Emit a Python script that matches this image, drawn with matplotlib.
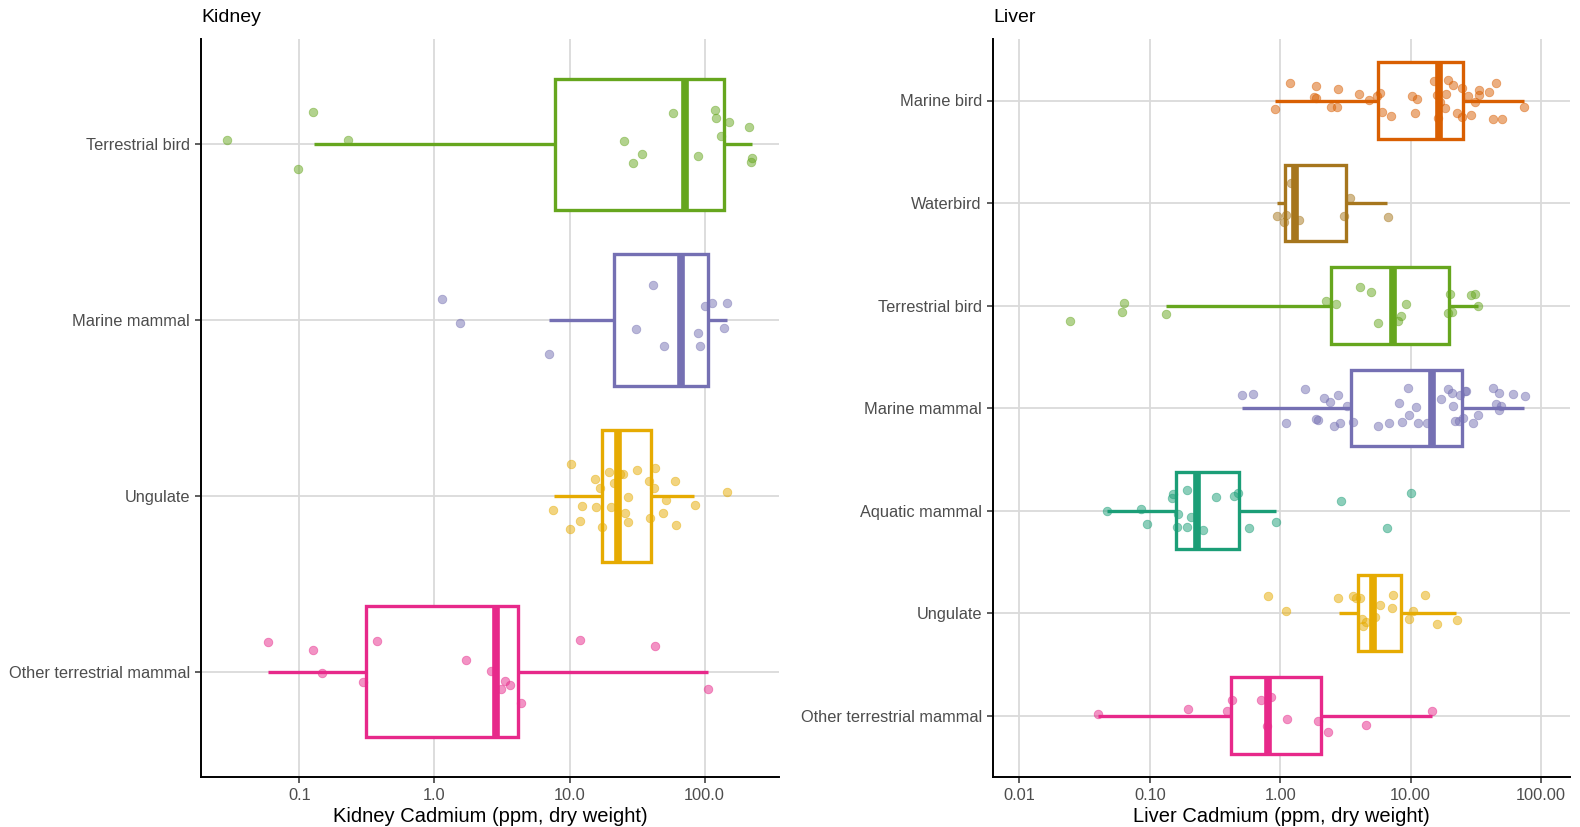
import matplotlib
matplotlib.use("Agg")
import matplotlib.pyplot as plt
import numpy as np

plt.rcParams['font.family'] = ['Liberation Sans', 'DejaVu Sans']

# ---------------------------------------------------------------- colours
group_colors = {
    "Marine bird": "#D95F02",
    "Waterbird": "#A6761D",
    "Terrestrial bird": "#66A61E",
    "Marine mammal": "#7570B3",
    "Aquatic mammal": "#1B9E77",
    "Ungulate": "#E6AB02",
    "Other terrestrial mammal": "#E7298A",
}

# ---------------------------------------------------------------- kidney data
kidney_groups = ["Terrestrial bird", "Marine mammal", "Ungulate", "Other terrestrial mammal"]

kidney_terrestrial_bird = [0.029, 0.126, 0.097, 0.228, 25.4, 29.3, 34.3, 58.6, 89, 119, 122, 152, 132, 213, 224, 219]
kidney_marine_mammal = [1.13, 1.54, 7.08, 30.9, 41.2, 49.8, 89.5, 91.9, 101, 114, 147, 139]
kidney_ungulate = [10.3, 7.6, 10.0, 11.9, 12.3, 15.4, 15.8, 16.7, 17.4, 19.7, 20.2, 21.3, 23.5, 24.9,
                   25.8, 27.0, 27.1, 31.3, 38.8, 39.6, 42.0, 42.8, 49.1, 51.4, 60.1, 61.7, 85.5, 147]
kidney_other_terrestrial = [0.059, 0.126, 0.147, 0.295, 0.376, 1.72, 2.64, 3.11, 3.34, 3.64, 4.34, 11.9, 42.8, 106]

kidney_values = [kidney_terrestrial_bird, kidney_marine_mammal, kidney_ungulate, kidney_other_terrestrial]

# vertical jitter of each point (in category units)
kidney_jitter = [
    [-0.025, -0.184, 0.137, -0.023, -0.017, 0.104, 0.055, -0.178, 0.068, -0.196, -0.148, -0.129, -0.049, -0.097, 0.076, 0.099],
    [-0.122, 0.015, 0.194, 0.051, -0.201, 0.148, 0.072, 0.146, -0.078, -0.095, -0.099, 0.044],
    [-0.184, 0.081, 0.189, 0.144, 0.058, -0.094, 0.064, -0.043, 0.178, -0.137, 0.066, -0.073, -0.122, -0.126,
     0.099, 0.146, 0.006, -0.148, -0.084, 0.124, -0.043, -0.159, 0.098, 0.021, -0.083, 0.165, 0.051, -0.023],
    [-0.168, -0.121, 0.008, 0.057, -0.174, -0.068, -0.004, 0.102, 0.053, 0.077, 0.181, -0.178, -0.147, 0.100],
]

# box summaries: lower whisker, Q1, median, Q3, upper whisker
kidney_whislo = [0.128, 7.08, 7.7, 0.059]
kidney_q1 = [7.8, 21.3, 17.3, 0.313]
kidney_median = [72, 67, 22.9, 2.86]
kidney_q3 = [139, 106, 40.4, 4.17]
kidney_whishi = [224, 147, 84, 106]

# ---------------------------------------------------------------- liver data
liver_groups = ["Marine bird", "Waterbird", "Terrestrial bird", "Marine mammal",
                "Aquatic mammal", "Ungulate", "Other terrestrial mammal"]

liver_marine_bird = [0.91, 1.18, 1.88, 1.82, 1.88, 2.77, 2.47, 2.73, 4.01, 4.83, 5.52, 5.86, 5.98, 7.05,
                     10.3, 11.1, 10.8, 15.1, 16.0, 16.9, 16.1, 18.4, 18.6, 19.5, 21.1, 22.7, 24.9, 24.9,
                     27.4, 29.1, 31.0, 33.6, 33.4, 39.7, 45.4, 43.0, 49.8, 73.6]
liver_waterbird = [0.94, 1.11, 1.07, 1.22, 1.39, 3.11, 3.41, 6.69]
liver_terrestrial_bird = [0.0244, 0.061, 0.064, 0.132, 2.25, 2.67, 4.12, 4.93, 5.59, 7.95, 8.49, 9.2,
                          20.0, 19.2, 20.7, 29.2, 31.0, 33.0]
liver_marine_mammal = [0.509, 0.618, 1.11, 1.55, 1.88, 1.96, 2.18, 2.41, 2.76, 2.59, 2.88, 3.24, 3.64,
                       5.59, 6.82, 8.18, 8.63, 9.55, 9.71, 10.9, 11.3, 13.4, 17.0, 19.4, 20.8, 21.2,
                       21.8, 23.4, 23.7, 25.0, 25.9, 26.8, 30.2, 33.0, 42.9, 47.7, 45.3, 49.7, 48.0,
                       61.0, 75.0]
liver_aquatic_mammal = [0.0473, 0.085, 0.095, 0.147, 0.150, 0.161, 0.165, 0.194, 0.194, 0.207, 0.254,
                        0.323, 0.441, 0.478, 0.576, 0.935, 2.90, 6.60, 10.0]
liver_ungulate = [0.81, 1.10, 2.79, 3.62, 3.84, 4.12, 4.25, 4.53, 4.32, 5.32, 5.81, 7.18, 7.36, 9.7,
                  10.4, 12.9, 16.0, 22.6]
liver_other_terrestrial = [0.0398, 0.195, 0.392, 0.427, 0.718, 0.847, 0.787, 1.12, 1.94, 2.33, 4.58, 14.5]

liver_values = [liver_marine_bird, liver_waterbird, liver_terrestrial_bird, liver_marine_mammal,
                liver_aquatic_mammal, liver_ungulate, liver_other_terrestrial]

liver_jitter = [
    [0.081, -0.168, -0.142, -0.036, -0.029, -0.110, 0.068, 0.061, -0.061, -0.003, -0.045, -0.078, 0.116, 0.155,
     -0.045, -0.019, 0.126, -0.187, -0.055, 0.016, 0.168, 0.078, -0.061, -0.200, -0.149, 0.120, -0.123, 0.165,
     -0.042, 0.139, 0.016, -0.052, -0.100, -0.084, -0.168, 0.178, 0.184, 0.065],
    [0.125, 0.115, 0.181, -0.197, 0.164, 0.125, -0.046, 0.132],
    [0.150, 0.064, -0.022, 0.086, -0.045, -0.019, -0.179, -0.134, 0.169, 0.156, 0.099, -0.019,
     -0.112, 0.073, 0.061, -0.102, -0.112, 0.003],
    [-0.124, -0.134, 0.147, -0.182, 0.105, 0.115, -0.096, -0.057, -0.128, 0.179, 0.147, -0.016, 0.134,
     0.175, 0.144, -0.051, 0.140, -0.195, 0.064, -0.013, 0.144, 0.147, -0.086, -0.182, -0.150, -0.019,
     0.128, 0.128, -0.124, 0.093, -0.166, -0.163, 0.150, 0.070, -0.191, -0.147, -0.038, -0.019, 0.022,
     -0.140, -0.115],
    [0.0, -0.013, 0.129, -0.119, -0.161, 0.164, 0.032, -0.200, 0.161, 0.068, 0.187,
     -0.132, -0.138, -0.171, 0.170, 0.116, -0.093, 0.167, -0.174],
    [-0.166, -0.019, -0.150, -0.166, -0.147, -0.150, 0.054, 0.089, 0.128, 0.038, -0.080, -0.048, -0.179, 0.057,
     -0.019, -0.179, 0.105, 0.073],
    [-0.019, -0.068, -0.042, -0.152, -0.155, -0.181, 0.103, 0.039, 0.058, 0.158, 0.091, -0.048],
]

liver_whislo = [0.92, 0.94, 0.132, 0.509, 0.0473, 2.8, 0.0398]
liver_q1 = [5.63, 1.09, 2.47, 3.47, 0.16, 3.96, 0.416]
liver_median = [16.5, 1.30, 7.35, 14.6, 0.232, 5.16, 0.81]
liver_q3 = [25.3, 3.22, 19.6, 24.9, 0.482, 8.4, 2.07]
liver_whishi = [73.6, 6.6, 33.0, 74.0, 0.93, 22.3, 14.5]

kidney_ticks = [0.1, 1, 10, 100]
kidney_ticklabels = ["0.1", "1.0", "10.0", "100.0"]
liver_ticks = [0.01, 0.1, 1, 10, 100]
liver_ticklabels = ["0.01", "0.10", "1.00", "10.00", "100.00"]

# ---------------------------------------------------------------- drawing
W, H = 1580, 827
fig = plt.figure(figsize=(W / 100, H / 100), dpi=100)

ax_k = fig.add_axes([201 / W, 1 - 777 / H, (779 - 201) / W, (777 - 39) / H])
ax_l = fig.add_axes([993 / W, 1 - 777 / H, (1570 - 993) / W, (777 - 39) / H])

GRID = "#DADADA"
TICK_TEXT = "#4D4D4D"


def panel(ax, title, groups, values, jitter, lo, q1, med, q3, hi, xlim, ticks, ticklabels, xlabel):
    n = len(groups)
    pos = np.arange(n)
    ax.set_xscale("log")
    ax.set_xlim(*xlim)
    ax.set_ylim(n - 1 + 0.6, -0.6)

    ax.grid(True, which="major", color=GRID, linewidth=1.3, zorder=0)
    ax.set_axisbelow(True)

    stats = []
    for i in range(n):
        stats.append(dict(whislo=lo[i], q1=q1[i], med=med[i], q3=q3[i], whishi=hi[i], fliers=[]))
    kw = dict(positions=pos, widths=0.75, patch_artist=True, showcaps=False,
              showfliers=False, manage_ticks=False, zorder=2)
    try:
        bp = ax.bxp(stats, orientation="horizontal", **kw)
    except TypeError:
        bp = ax.bxp(stats, vert=False, **kw)

    for i, g in enumerate(groups):
        c = group_colors[g]
        box = bp["boxes"][i]
        box.set_facecolor("white")
        box.set_edgecolor(c)
        box.set_linewidth(2.4)
        box.set_joinstyle("miter")
        bp["medians"][i].set_color(c)
        bp["medians"][i].set_linewidth(5.5)
        bp["medians"][i].set_solid_capstyle("butt")
        for w in bp["whiskers"][2 * i:2 * i + 2]:
            w.set_color(c)
            w.set_linewidth(2.4)
            w.set_solid_capstyle("butt")

    for i, g in enumerate(groups):
        c = group_colors[g]
        y = pos[i] + np.asarray(jitter[i])
        ax.scatter(values[i], y, s=38, color=c, alpha=0.5, edgecolors=c, linewidths=0.6, zorder=3)

    ax.set_yticks(pos)
    ax.set_yticklabels(groups, fontsize=11.8, color=TICK_TEXT)
    ax.set_xticks(ticks)
    ax.set_xticklabels(ticklabels, fontsize=11.8, color=TICK_TEXT)
    ax.xaxis.set_minor_locator(matplotlib.ticker.NullLocator())
    ax.tick_params(axis="both", length=4, width=1.1, color="#333333", pad=4)
    ax.set_xlabel(xlabel, fontsize=14.5, color="black", labelpad=3)

    for side in ("top", "right"):
        ax.spines[side].set_visible(False)
    for side in ("left", "bottom"):
        ax.spines[side].set_linewidth(1.4)
        ax.spines[side].set_color("black")

    ax.set_title(title, loc="left", fontsize=14, color="black", pad=12)


panel(ax_k, "Kidney", kidney_groups, kidney_values, kidney_jitter,
      kidney_whislo, kidney_q1, kidney_median, kidney_q3, kidney_whishi,
      (0.0187, 355), kidney_ticks, kidney_ticklabels, "Kidney Cadmium (ppm, dry weight)")

panel(ax_l, "Liver", liver_groups, liver_values, liver_jitter,
      liver_whislo, liver_q1, liver_median, liver_q3, liver_whishi,
      (0.00628, 166.7), liver_ticks, liver_ticklabels, "Liver Cadmium (ppm, dry weight)")

fig.savefig("out.png", dpi=100, facecolor="white")
